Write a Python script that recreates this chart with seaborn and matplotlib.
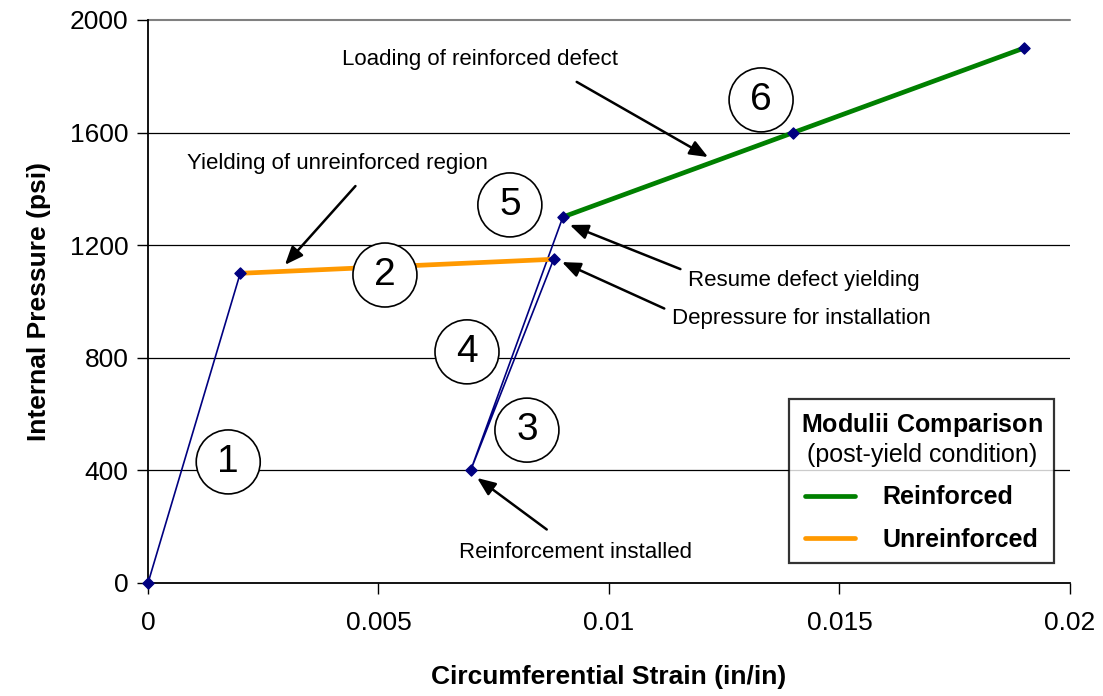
import matplotlib
matplotlib.use("Agg")
import matplotlib.pyplot as plt
import pandas as pd
import seaborn as sns

# load path (strain in/in, pressure psi)
strain = [0.0, 0.002, 0.0088, 0.007, 0.009, 0.014, 0.019]
pressure = [0, 1100, 1150, 400, 1300, 1600, 1900]
# post-yield segments
unreinf_strain = [0.002, 0.0088]
unreinf_press = [1100, 1150]
reinf_strain = [0.009, 0.014, 0.019]
reinf_press = [1300, 1600, 1900]

stage_labels = ["1", "2", "3", "4", "5", "6"]
stage_x = [0.00174, 0.00514, 0.00822, 0.00692, 0.00785, 0.0133]
stage_y = [430, 1094, 543, 821, 1343, 1716]

sns.set_style("white")
plt.rcParams['font.family'] = ['Liberation Sans', 'DejaVu Sans']
plt.rcParams['mathtext.fontset'] = 'custom'
plt.rcParams['mathtext.bf'] = 'Liberation Sans:bold'
plt.rcParams['mathtext.rm'] = 'Liberation Sans'
plt.rcParams['text.color'] = 'black'
plt.rcParams['axes.labelcolor'] = 'black'
plt.rcParams['xtick.color'] = 'black'
plt.rcParams['ytick.color'] = 'black'

fig = plt.figure(figsize=(11.03, 6.96), dpi=100)
ax = fig.add_axes([0.1342, 0.1624, 0.8358, 0.8089])

for yv in [400, 800, 1200, 1600]:
    ax.axhline(yv, color="black", lw=0.9, zorder=0)
ax.axhline(2000, color="#808080", lw=1.5, zorder=0, clip_on=False)

path = pd.DataFrame({"strain": strain, "pressure": pressure})
sns.lineplot(data=path, x="strain", y="pressure", sort=False, estimator=None,
             color="#000080", lw=1.2, ax=ax, zorder=2)
sns.lineplot(x=unreinf_strain, y=unreinf_press, color="#FF9900", lw=3.4, ax=ax,
             zorder=3, label="Unreinforced")
sns.lineplot(x=reinf_strain, y=reinf_press, color="#008000", lw=3.4, ax=ax,
             zorder=3, label="Reinforced")
ax.scatter(strain, pressure, marker="D", s=32, color="#000080", zorder=5,
           clip_on=False)

ax.set_xlim(0, 0.02)
ax.set_ylim(0, 2000)
ax.set_xticks([0, 0.005, 0.01, 0.015, 0.02])
ax.set_xticklabels(["0", "0.005", "0.01", "0.015", "0.02"])
ax.set_yticks([0, 400, 800, 1200, 1600, 2000])
ax.tick_params(axis="both", labelsize=19, direction="out", length=8, width=1,
               color="black", bottom=True, left=True, pad=6)
ax.tick_params(axis="x", pad=12)
for s in ["top", "right"]:
    ax.spines[s].set_visible(False)
for s in ["left", "bottom"]:
    ax.spines[s].set_color("black")
    ax.spines[s].set_linewidth(1.3)
ax.set_xlabel("Circumferential Strain (in/in)", fontsize=19, fontweight="bold",
              labelpad=22)
ax.set_ylabel("Internal Pressure (psi)", fontsize=19, fontweight="bold",
              labelpad=14)

for lab, xs, ys in zip(stage_labels, stage_x, stage_y):
    ax.text(xs, ys, lab, fontsize=28, ha="center", va="center", zorder=6,
            bbox=dict(boxstyle="circle,pad=0.36", fc="white", ec="black", lw=1.2))

arrow = dict(arrowstyle="-|>,head_length=1.1,head_width=0.45", color="black",
             lw=1.8, shrinkA=0, shrinkB=0)
ax.annotate("", xy=(0.00297, 1130), xytext=(0.00450, 1410), arrowprops=arrow)
ax.text(0.0041, 1490, "Yielding of unreinforced region", ha="center",
        va="center", fontsize=16)
ax.annotate("", xy=(0.01215, 1513), xytext=(0.00930, 1780), arrowprops=arrow)
ax.text(0.0072, 1861, "Loading of reinforced defect", ha="center",
        va="center", fontsize=16)
ax.annotate("", xy=(0.00915, 1272), xytext=(0.01155, 1115), arrowprops=arrow)
ax.text(0.01171, 1076, "Resume defect yielding", ha="left", va="center",
        fontsize=16)
ax.annotate("", xy=(0.00898, 1140), xytext=(0.01120, 975), arrowprops=arrow)
ax.text(0.01137, 941, "Depressure for installation", ha="left", va="center",
        fontsize=16)
ax.annotate("", xy=(0.00714, 373), xytext=(0.00865, 190), arrowprops=arrow)
ax.text(0.00928, 110, "Reinforcement installed", ha="center", va="center",
        fontsize=16)

# legend in the style of the original
handles, labels = ax.get_legend_handles_labels()
order = [labels.index("Reinforced"), labels.index("Unreinforced")]
leg = ax.legend([handles[i] for i in order], [labels[i] for i in order],
                title="$\\mathbf{Modulii\\ Comparison}$\n(post-yield condition)",
                loc="lower right", bbox_to_anchor=(0.9826, 0.035),
                fontsize=18, title_fontsize=18, frameon=True, fancybox=False,
                edgecolor="black", handlelength=2.0, handletextpad=1.1,
                labelspacing=0.75, borderpad=0.45, borderaxespad=0)
leg.get_frame().set_linewidth(1.6)
leg.get_title().set_multialignment("center")
for t in leg.get_texts():
    t.set_fontweight("bold")
leg.set_zorder(7)

fig.savefig("out.png", dpi=100)
